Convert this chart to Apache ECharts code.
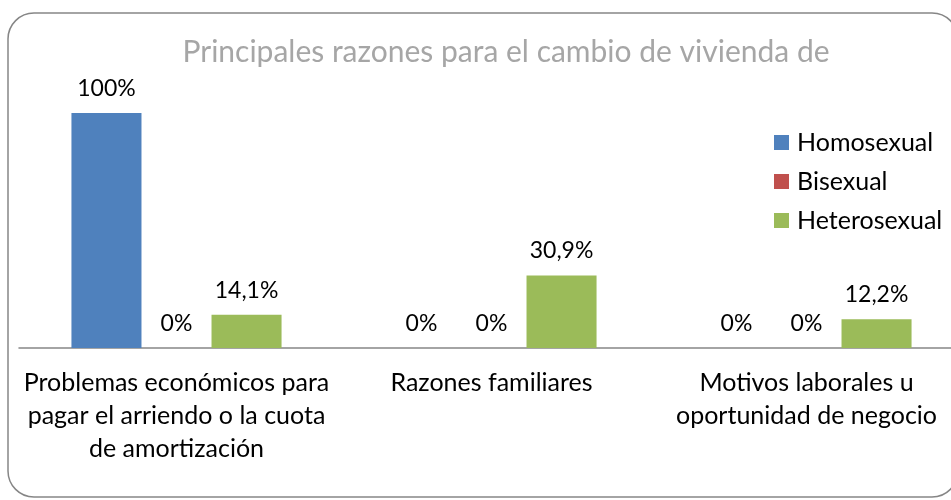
<!DOCTYPE html>
<html>
<head>
    <meta charset="utf-8">
    <title>Cambio de vivienda</title>
    <script src="https://cdn.jsdelivr.net/npm/echarts@6/dist/echarts.min.js"></script>
    <style>
        html, body { margin: 0; padding: 0; background: #fff; overflow: hidden; }
        /* el gráfico original está recortado por la derecha */
        #chart { width: 964px; height: 500px; }
    </style>
</head>
<body>
    <div id="chart"></div>
    <script type="text/javascript">
        var chart = echarts.init(document.getElementById('chart'));

        // datos
        var categorias = [
            'Problemas económicos para\npagar el arriendo o la cuota\nde amortización',
            'Razones familiares',
            'Motivos laborales u\noportunidad de negocio'
        ];
        var homosexual = [100, 0, 0];
        var bisexual = [0, 0, 0];
        var heterosexual = [14.1, 30.9, 12.2];

        var fuente = 'Lato';

        function etiqueta(p) {
            return String(p.value).replace('.', ',') + '%';
        }

        function serie(nombre, datos, color) {
            return {
                name: nombre,
                type: 'bar',
                data: datos,
                barGap: '0%',
                barCategoryGap: '33.3%',
                itemStyle: { color: color },
                label: {
                    show: true,
                    position: 'top',
                    distance: 13,
                    formatter: etiqueta,
                    color: '#000',
                    fontFamily: fuente,
                    fontSize: 23
                }
            };
        }

        var option = {
            animation: false,
            title: {
                text: 'Principales razones para el cambio de vivienda de',
                left: 501,
                top: 32,
                textAlign: 'center',
                textStyle: {
                    color: '#a6a6a6',
                    fontFamily: fuente,
                    fontWeight: 'normal',
                    fontSize: 30
                }
            },
            graphic: [{
                type: 'rect',
                shape: { x: 8, y: 13, width: 950, height: 484, r: 26 },
                style: { fill: 'none', stroke: '#868686', lineWidth: 1.5 },
                silent: true
            }],
            legend: {
                orient: 'vertical',
                left: 774,
                top: 130,
                padding: 0,
                itemWidth: 15,
                itemHeight: 15,
                itemGap: 14,
                icon: 'rect',
                textStyle: {
                    color: '#000',
                    fontFamily: fuente,
                    fontSize: 25,
                    lineHeight: 24,
                    padding: [0, 0, 0, 3]
                },
                data: ['Homosexual', 'Bisexual', 'Heterosexual']
            },
            grid: {
                left: 19,
                top: 113,
                right: 0,
                height: 235
            },
            xAxis: {
                type: 'category',
                data: categorias,
                axisLine: { lineStyle: { color: '#868686', width: 1.5 } },
                axisTick: { length: 8, lineStyle: { color: '#868686', width: 1.5 } },
                axisLabel: {
                    color: '#000',
                    fontFamily: fuente,
                    fontSize: 25,
                    lineHeight: 33,
                    margin: 18,
                    interval: 0
                }
            },
            yAxis: {
                type: 'value',
                min: 0,
                max: 100,
                show: false
            },
            series: [
                serie('Homosexual', homosexual, '#4f81bd'),
                serie('Bisexual', bisexual, '#c0504d'),
                serie('Heterosexual', heterosexual, '#9bbb59')
            ]
        };

        chart.setOption(option);
    </script>
</body>
</html>
